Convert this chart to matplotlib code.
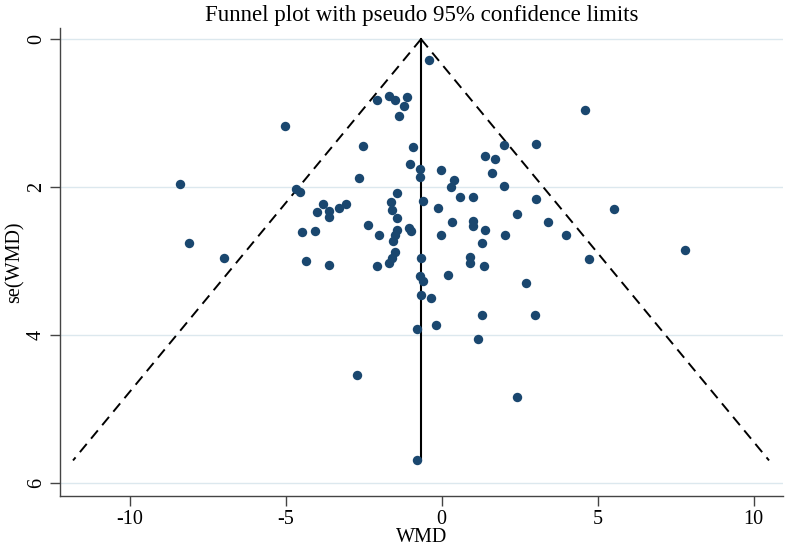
import matplotlib
matplotlib.use("Agg")
import matplotlib.pyplot as plt
import numpy as np

wmd = [-0.41, -2.08, -1.68, -1.50, -1.10, -1.20, -1.36, -2.51, -0.91, -1.02,
       -0.70, -0.70, -0.02, 0.39, 0.29, 1.39, 1.71, 2.00, 1.61, 2.00,
       -2.64, -5.01, -4.67, 4.60, 3.01, -8.37, -8.09, -6.98, -4.54, -4.47,
       -4.35, -1.42, -1.63, -1.60, -1.42, -3.81, -3.99, -3.62, -3.60, -3.30,
       -3.08, -4.05, -2.37, -2.00, -1.06, -0.99, -1.44, -1.51, -1.57, -1.50,
       -1.59, -1.70, -3.61, -2.08, -0.60, -0.65, -0.70, -0.59, -0.66, -0.34,
       -0.11, 0.32, -0.01, 0.22, 0.60, 1.01, 3.01, 5.54, 2.42, 1.01,
       1.01, 1.40, 3.41, 2.02, 3.99, 1.29, 0.91, 0.91, 1.36, 4.72,
       2.70, 1.29, 3.00, 7.80, -0.80, -0.18, 1.16, 2.41, -0.78, -2.72]
se = [0.28, 0.82, 0.77, 0.82, 0.78, 0.91, 1.04, 1.45, 1.46, 1.68,
      1.76, 1.86, 1.77, 1.90, 2.00, 1.58, 1.62, 1.43, 1.81, 1.98,
      1.88, 1.18, 2.02, 0.96, 1.42, 1.96, 2.76, 2.96, 2.06, 2.60,
      2.99, 2.08, 2.20, 2.31, 2.42, 2.22, 2.34, 2.32, 2.40, 2.28,
      2.22, 2.59, 2.51, 2.64, 2.55, 2.59, 2.58, 2.65, 2.72, 2.87,
      2.95, 3.02, 3.05, 3.06, 2.19, 2.95, 3.20, 3.26, 3.46, 3.50,
      2.28, 2.47, 2.64, 3.18, 2.13, 2.13, 2.16, 2.30, 2.36, 2.45,
      2.53, 2.58, 2.47, 2.64, 2.64, 2.75, 2.94, 3.02, 3.07, 2.97,
      3.30, 3.73, 3.73, 2.85, 3.91, 3.86, 4.05, 4.83, 5.69, 4.53]

pooled = -0.66
se_max = 5.69

xticks = [-10, -5, 0, 5, 10]
yticks = [0, 2, 4, 6]

plt.rcParams['font.family'] = ['Liberation Serif', 'DejaVu Serif']

fig = plt.figure(figsize=(7.86, 5.51), dpi=100)
ax = fig.add_axes([60/786, 55/551, 723/786, 468/551])

for yv in yticks:
    ax.axhline(yv, color='#dce8ee', lw=1.0, zorder=0)

ax.scatter(wmd, se, s=46, color='#1a476f', zorder=3, linewidths=0)

se_line = np.array([0.0, se_max])
ax.plot(pooled - 1.96 * se_line, se_line, color='black', lw=1.4,
        linestyle=(0, (5.5, 3.5)), zorder=2)
ax.plot(pooled + 1.96 * se_line, se_line, color='black', lw=1.4,
        linestyle=(0, (5.5, 3.5)), zorder=2)
ax.plot([pooled, pooled], [0, se_max], color='black', lw=1.5, zorder=2)

ax.set_xlim(-12.23, 10.94)
ax.set_ylim(6.17, -0.15)
ax.set_xticks(xticks)
ax.set_yticks(yticks)
ax.set_xticklabels([str(v) for v in xticks], fontsize=14.5)
ax.set_yticklabels([str(v) for v in yticks], fontsize=14.5, rotation=90, va='center')

for s in ['top', 'right']:
    ax.spines[s].set_visible(False)
for s in ['left', 'bottom']:
    ax.spines[s].set_color('#444444')
    ax.spines[s].set_linewidth(1.0)
ax.tick_params(axis='both', direction='out', length=7, width=1.0, color='#444444')
ax.tick_params(axis='x', pad=3)
ax.tick_params(axis='y', pad=3)

ax.set_xlabel('WMD', fontsize=14.5, labelpad=-1)
ax.set_ylabel('se(WMD)', fontsize=14.5, labelpad=2)
ax.set_title('Funnel plot with pseudo 95% confidence limits', fontsize=16.5, pad=5)

fig.savefig('out.png', dpi=100)
